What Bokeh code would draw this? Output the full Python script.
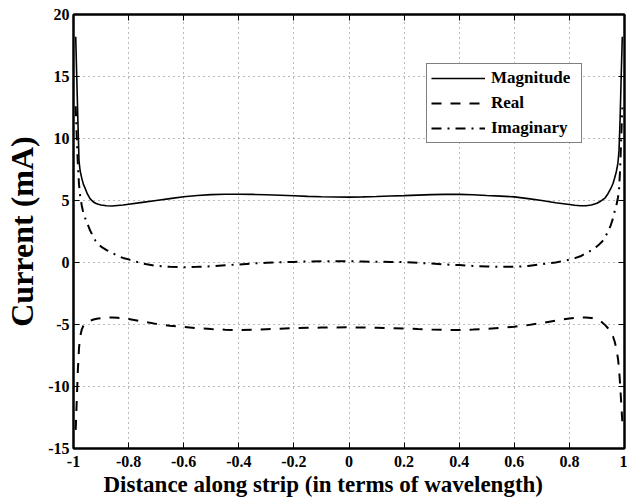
from bokeh.plotting import figure
from bokeh.models import Range1d, FixedTicker, LinearAxis, Title, ColumnDataSource, CustomJSTickFormatter
from bokeh.embed import file_html
from bokeh.resources import INLINE

# ---------------- data ----------------
distance = [-0.992, -0.988, -0.984, -0.98, -0.976, -0.97, -0.964, -0.958, -0.95, -0.94,
            -0.93, -0.92, -0.91, -0.9, -0.88, -0.86, -0.84, -0.82, -0.8, -0.75,
            -0.7, -0.65, -0.6, -0.55, -0.5, -0.45, -0.4, -0.35, -0.3, -0.25,
            -0.2, -0.15, -0.1, -0.05, 0.0,
            0.05, 0.1, 0.15, 0.2, 0.25, 0.3, 0.35, 0.4, 0.45, 0.5,
            0.55, 0.6, 0.65, 0.7, 0.75, 0.8, 0.82, 0.84, 0.86, 0.88,
            0.9, 0.91, 0.92, 0.93, 0.94, 0.95, 0.958, 0.964, 0.97, 0.976,
            0.98, 0.984, 0.988, 0.992]

magnitude = [18.2, 14.8, 11.4, 8.2, 7.4, 6.8, 6.3, 6.0, 5.55, 5.15,
             4.92, 4.78, 4.70, 4.64, 4.58, 4.56, 4.60, 4.64, 4.70, 4.85,
             5.00, 5.15, 5.30, 5.40, 5.47, 5.50, 5.50, 5.49, 5.46, 5.42,
             5.38, 5.33, 5.30, 5.28, 5.27,
             5.29, 5.32, 5.36, 5.39, 5.43, 5.47, 5.49, 5.49, 5.46, 5.40,
             5.35, 5.29, 5.15, 5.00, 4.82, 4.68, 4.62, 4.58, 4.58, 4.64,
             4.78, 4.90, 5.05, 5.22, 5.55, 5.95, 6.35, 6.80, 7.30, 8.00,
             9.00, 11.5, 15.0, 18.2]

real = [-13.5, -11.0, -8.6, -6.9, -6.0, -5.4, -5.1, -4.95, -4.8, -4.7,
        -4.62, -4.56, -4.52, -4.49, -4.45, -4.44, -4.46, -4.50, -4.56, -4.75,
        -4.95, -5.10, -5.20, -5.30, -5.37, -5.42, -5.45, -5.42, -5.38, -5.34,
        -5.30, -5.27, -5.25, -5.24, -5.23,
        -5.24, -5.26, -5.29, -5.32, -5.37, -5.41, -5.44, -5.44, -5.41, -5.36,
        -5.28, -5.18, -5.05, -4.88, -4.68, -4.52, -4.46, -4.43, -4.43, -4.47,
        -4.60, -4.70, -4.85, -5.05, -5.30, -5.60, -5.95, -6.35, -6.90, -7.70,
        -8.50, -9.80, -11.3, -12.8]

imaginary = [12.6, 10.0, 7.8, 6.3, 5.4, 4.6, 3.95, 3.6, 3.15, 2.6,
             2.15, 1.75, 1.50, 1.28, 1.00, 0.78, 0.53, 0.37, 0.25, -0.08,
             -0.27, -0.35, -0.38, -0.35, -0.30, -0.22, -0.16, -0.08, -0.02, 0.02,
             0.05, 0.08, 0.10, 0.11, 0.10,
             0.08, 0.06, 0.05, 0.03, -0.03, -0.09, -0.16, -0.21, -0.28, -0.32,
             -0.35, -0.35, -0.28, -0.13, 0.00, 0.23, 0.35, 0.50, 0.75, 0.98,
             1.30, 1.50, 1.72, 2.05, 2.50, 3.00, 3.55, 4.10, 4.55, 5.20,
             5.80, 7.50, 10.0, 12.5]

x_ticks = [-1, -0.8, -0.6, -0.4, -0.2, 0, 0.2, 0.4, 0.6, 0.8, 1]
x_tick_labels = ["-1", "-0.8", "-0.6", "-0.4", "-0.2", "0", "0.2", "0.4", "0.6", "0.8", "1"]
y_ticks = [-15, -10, -5, 0, 5, 10, 15, 20]
y_tick_labels = ["-15", "-10", "-5", "0", "5", "10", "15", "20"]

series_names = ["Magnitude", "Real", "Imaginary"]

# ---------------- figure ----------------
FONT = "Liberation Serif"

p = figure(width=627, height=504, output_backend="svg", toolbar_location=None,
           x_range=Range1d(-1, 1), y_range=Range1d(-15, 20),
           min_border_left=73, min_border_right=3, min_border_top=14, min_border_bottom=56,
           background_fill_color="white", border_fill_color="white")

p.outline_line_color = "black"
p.outline_line_width = 2
p.outline_line_alpha = 1

xt = FixedTicker(ticks=x_ticks)
yt = FixedTicker(ticks=y_ticks)

for ax in p.xaxis:
    ax.ticker = xt
    ax.major_label_overrides = {float(v): s for v, s in zip(x_ticks, x_tick_labels)}
for ax in p.yaxis:
    ax.ticker = yt
    ax.major_label_overrides = {float(v): s for v, s in zip(y_ticks, y_tick_labels)}

for ax in list(p.xaxis) + list(p.yaxis):
    ax.major_tick_in = 6
    ax.major_tick_out = 0
    ax.minor_tick_in = 0
    ax.minor_tick_out = 0
    ax.major_tick_line_color = "black"
    ax.major_tick_line_width = 1
    ax.axis_line_color = "black"
    ax.axis_line_width = 2
    ax.major_label_text_font = FONT
    ax.major_label_text_font_style = "bold"
    ax.major_label_text_font_size = "16px"
    ax.major_label_text_color = "black"

p.xaxis.major_label_standoff = 7
p.yaxis.major_label_standoff = 4
p.yaxis.axis_label = "Current (mA)"
p.yaxis.axis_label_text_font = FONT
p.yaxis.axis_label_text_font_style = "bold"
p.yaxis.axis_label_text_font_size = "32px"
p.yaxis.axis_label_text_color = "black"
p.yaxis.axis_label_standoff = 5

# box ticks on top and right (no labels)
blank = CustomJSTickFormatter(code="return '';")
top_ax = LinearAxis(ticker=xt, formatter=blank, major_label_text_font_size="1px",
                    major_label_standoff=0,
                    major_tick_in=6, major_tick_out=0, minor_tick_in=0, minor_tick_out=0,
                    axis_line_color="black", axis_line_width=2)
right_ax = LinearAxis(ticker=yt, formatter=blank, major_label_text_font_size="1px",
                      major_label_standoff=0,
                      major_tick_in=6, major_tick_out=0, minor_tick_in=0, minor_tick_out=0,
                      axis_line_color="black", axis_line_width=2)
p.add_layout(top_ax, "above")
p.add_layout(right_ax, "right")

# grid
for g in (p.xgrid, p.ygrid):
    g.grid_line_color = "#555555"
    g.grid_line_dash = "1 4"
    g.grid_line_width = 1
    g.grid_line_alpha = 0.8
p.xgrid.ticker = xt
p.ygrid.ticker = yt

# x axis title, placed like the reference (left-shifted)
p.add_layout(Title(text="Distance along strip (in terms of wavelength)", align="left",
                   offset=30, text_font=FONT, text_font_style="bold",
                   text_font_size="23px", text_color="black", standoff=0), "below")

src = ColumnDataSource(dict(x=distance, mag=magnitude, re=real, im=imaginary))

p.line("x", "mag", source=src, line_color="black", line_width=1.6,
       legend_label=series_names[0])
p.line("x", "re", source=src, line_color="black", line_width=2, line_dash="10 9",
       legend_label=series_names[1])
p.line("x", "im", source=src, line_color="black", line_width=2, line_dash="10 6 2 6",
       legend_label=series_names[2])

leg = p.legend[0]
leg.location = (353, 305)
leg.border_line_color = "black"
leg.border_line_width = 1.5
leg.background_fill_color = "white"
leg.background_fill_alpha = 1
leg.label_text_font = FONT
leg.label_text_font_style = "bold"
leg.label_text_font_size = "17px"
leg.label_text_color = "black"
leg.glyph_width = 54
leg.glyph_height = 16
leg.label_height = 16
leg.label_width = 86
leg.label_standoff = 6
leg.spacing = 5
leg.padding = 4
leg.margin = 0

open("out.html", "w").write(file_html(p, INLINE))
